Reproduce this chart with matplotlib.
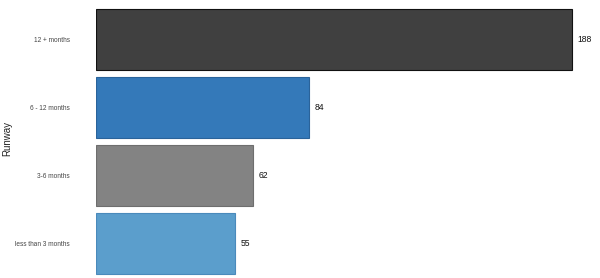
import matplotlib
matplotlib.use("Agg")
import matplotlib.pyplot as plt

# Company runway distribution
categories = ["12 + months", "6 - 12 months", "3-6 months", "less than 3 months"]
counts = [188, 84, 62, 55]
colors = ["#404040", "#3479b9", "#838383", "#5b9ecc"]
edges = ["#111111", "#2a639a", "#6e6e6e", "#4a8abb"]

plt.rcParams["font.family"] = ["Liberation Sans", "DejaVu Sans"]

fig = plt.figure(figsize=(6.0, 2.78), dpi=100)
ax = fig.add_axes([0.16, 0.0, 0.837, 1.0])

pos = list(range(len(categories)))
ax.barh(pos, counts, height=0.89, color=colors, edgecolor=edges, linewidth=0.8)

for p, v in zip(pos, counts):
    ax.text(v + 2.2, p, str(v), va="center", ha="left", fontsize=6.2, color="#111111")

ax.set_xlim(0, 198.4)
ax.set_ylim(3.507, -0.577)
ax.set_yticks(pos)
ax.set_yticklabels(categories, fontsize=4.7, color="#444444")
ax.tick_params(axis="y", length=0, pad=19)
ax.set_xticks([])
ax.set_ylabel("Runway", fontsize=7, color="#222222")
ax.yaxis.set_label_coords(-0.167, 0.5)
for s in ax.spines.values():
    s.set_visible(False)

fig.savefig("out.png", dpi=100)
